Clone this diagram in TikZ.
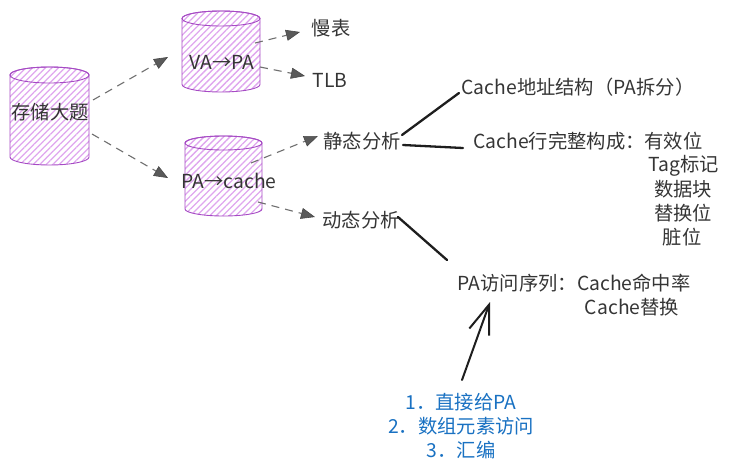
\documentclass[tikz,border=0pt]{standalone}
\usepackage{fontspec}
\setmainfont{Noto Sans CJK SC}
\usetikzlibrary{arrows.meta,patterns.meta,calc}
\definecolor{violetline}{HTML}{A64BC4}
\definecolor{hatchc}{HTML}{DFA6EE}
\definecolor{ink}{HTML}{1E1E1E}
\definecolor{dashgray}{HTML}{707070}
\definecolor{headgray}{HTML}{5A5A5A}
\definecolor{bluetext}{HTML}{1971C2}
\tikzset{
  txt/.style={inner sep=0pt, font=\fontsize{19.3}{21}\selectfont, text=ink!90!white},
  bluetxt/.style={inner sep=0pt, font=\fontsize{19.3}{21}\selectfont, text=bluetext},
  cyl/.style={draw=violetline, line width=0.9pt, pattern={Lines[angle=45,distance=4.6pt,line width=1.3pt]}, pattern color=hatchc},
  cyltop/.style={draw=violetline, line width=0.9pt},
  darr/.style={draw=dashgray, line width=1.1pt, dash pattern=on 8pt off 6pt,
    -{Triangle[length=14pt,width=11pt,fill=headgray,color=headgray!80!black,line width=0.6pt]}},
  sketch/.style={draw=ink, line width=2.3pt, line cap=round},
  sketcharr/.style={draw=ink, line width=2pt, line cap=round, -{Straight Barb[length=29pt,width=21pt,line width=2pt]}}
}
\begin{document}
\begin{tikzpicture}[x=1pt,y=-1pt]
\useasboundingbox (0,0) rectangle (730,471);
% cylinders
\path[cyl] (10,75) -- (10,157) arc[start angle=180,end angle=0,x radius=39.5,y radius=8] -- (89,75) arc[start angle=0,end angle=-180,x radius=39.5,y radius=8] -- cycle;
\draw[cyltop] (49.5,75) ellipse[x radius=39.5,y radius=8];
\path[cyl] (182,18.5) -- (182,84.5) arc[start angle=180,end angle=0,x radius=39,y radius=7.5] -- (260,18.5) arc[start angle=0,end angle=-180,x radius=39,y radius=7.5] -- cycle;
\draw[cyltop] (221,18.5) ellipse[x radius=39,y radius=7.5];
\path[cyl] (185,143) -- (185,209) arc[start angle=180,end angle=0,x radius=38.5,y radius=7] -- (262,143) arc[start angle=0,end angle=-180,x radius=38.5,y radius=7] -- cycle;
\draw[cyltop] (223.5,143) ellipse[x radius=38.5,y radius=7];
% texts
\node[txt] (store) at (50,112) {存储大题};
\node[txt] (va) at (222,62) {VA→PA};
\node[txt] (pa) at (229,181) {PA→cache};
\node[txt] (slow) at (331,28) {慢表};
\node[txt] (tlb) at (330,80) {TLB};
\node[txt] (static) at (362,141) {静态分析};
\node[txt] (dynamic) at (361,220) {动态分析};
\node[txt] (addr) at (578,87) {Cache地址结构（PA拆分）};
\node[txt] (line) at (588,141) {Cache行完整构成：有效位};
\node[txt] (tag) at (684,166) {Tag标记};
\node[txt] (data) at (683,189) {数据块};
\node[txt] (repl) at (683,213) {替换位};
\node[txt] (dirty) at (682,237) {脏位};
\node[txt] (seq) at (574,283) {PA访问序列：Cache命中率};
\node[txt] (swap) at (632,307) {Cache替换};
\node[bluetxt] (b1) at (461,402) {1．直接给PA};
\node[bluetxt] (b2) at (461,426) {2．数组元素访问};
\node[bluetxt] (b3) at (461,450) {3．汇编};
% dashed arrows
\draw[darr] ($(store)+(43,-12)$) -- ($(va)+(-54,-5)$);
\draw[darr] ($(store)+(42,22)$) -- ($(pa)+(-61,-3)$);
\draw[darr] ($(va)+(33,-19)$) -- ($(slow)+(-31,4)$);
\draw[darr] ($(va)+(38,5)$) -- ($(tlb)+(-25,-4)$);
\draw[darr] ($(pa)+(22,-18)$) -- ($(static)+(-44,-5)$);
\draw[darr] ($(pa)+(29,21)$) -- ($(dynamic)+(-46,-3)$);
% sketch lines
\draw[sketch] ($(static)+(40,-6)$) -- ($(addr)+(-119,6)$);
\draw[sketch] ($(static)+(41,4)$) -- ($(line)+(-125,7)$);
\draw[sketch] ($(dynamic)+(37,-3)$) -- ($(seq)+(-127,-23)$);
\draw[sketcharr] ($(b1)+(1,-22)$) -- ($(seq)+(-84,19)$);
\end{tikzpicture}
\end{document}
